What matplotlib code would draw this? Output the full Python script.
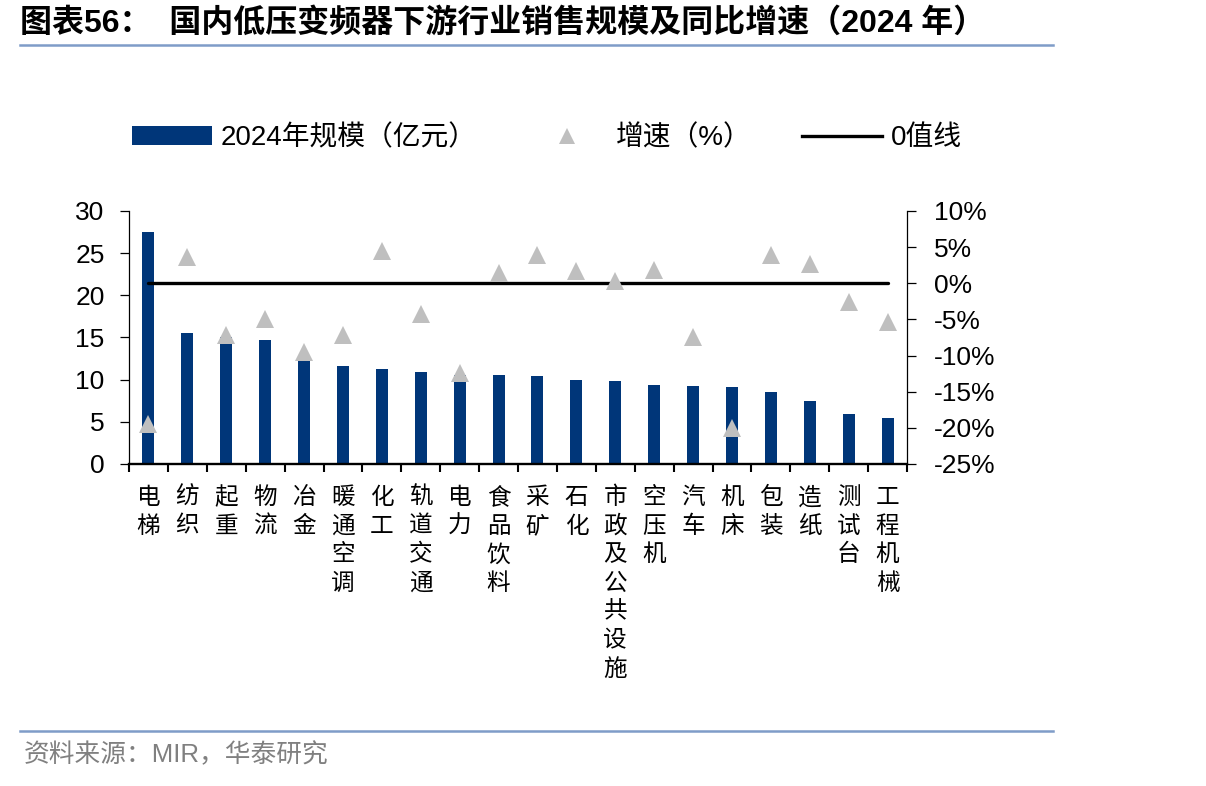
import matplotlib
matplotlib.use("Agg")
import matplotlib.pyplot as plt
import numpy as np
from matplotlib.lines import Line2D
from matplotlib.patches import Patch
from matplotlib.ticker import FuncFormatter

# ---- data ----
categories = ['电梯', '纺织', '起重', '物流', '冶金', '暖通空调', '化工', '轨道交通', '电力',
              '食品饮料', '采矿', '石化', '市政及公共设施', '空压机', '汽车', '机床', '包装',
              '造纸', '测试台', '工程机械']
scale_2024 = [27.5, 15.5, 15.0, 14.7, 12.5, 11.6, 11.3, 10.9, 10.6, 10.5, 10.4, 10.0, 9.9,
              9.4, 9.25, 9.1, 8.5, 7.5, 5.9, 5.4]
growth_pct = [-19.5, 3.7, -7.1, -5.0, -9.5, -7.1, 4.5, -4.3, -12.4, 1.4, 3.9, 1.7, 0.3,
              1.9, -7.5, -20.0, 3.9, 2.7, -2.6, -5.3]
zero_line = [0] * len(categories)
left_ticks = [0, 5, 10, 15, 20, 25, 30]
right_ticks = [-25, -20, -15, -10, -5, 0, 5, 10]

title = '图表56：  国内低压变频器下游行业销售规模及同比增速（2024 年）'
source = '资料来源：MIR，华泰研究'
legend_labels = ['2024年规模（亿元）', '增速（%）', '0值线']

# ---- style ----
LAT = ['Liberation Sans', 'Noto Sans CJK SC', 'DejaVu Sans']
CJK = ['Noto Sans CJK SC', 'DejaVu Sans']
plt.rcParams['font.family'] = LAT
BAR_C = '#003679'
TRI_C = '#BFBFBF'
RULE_C = '#7F9CC8'

W, H = 1206, 786
fig = plt.figure(figsize=(W / 100, H / 100), dpi=100)

ax_l, ax_r, ax_b, ax_t = 129, 907, 464, 211
ax = fig.add_axes([ax_l / W, 1 - ax_b / H, (ax_r - ax_l) / W, (ax_b - ax_t) / H])
ax2 = ax.twinx()

x = np.arange(len(categories))
ax.bar(x, scale_2024, width=0.31, color=BAR_C, zorder=2)
ax2.plot(x, zero_line, color='black', lw=2.4, solid_capstyle='round', zorder=3)
ax2.plot(x, growth_pct, linestyle='none', marker='^', markersize=13.5,
         color=TRI_C, markeredgewidth=0, zorder=4)

ax.set_xlim(-0.5, len(categories) - 0.5)
ax.set_ylim(0, 30)
ax2.set_ylim(-25, 10)
ax.set_yticks(left_ticks)
ax2.set_yticks(right_ticks)
ax2.yaxis.set_major_formatter(FuncFormatter(lambda v, p: f'{int(round(v))}%'))

ax.set_xticks(x)
ax.set_xticklabels(['\n'.join(c) for c in categories], family=CJK, fontsize=17,
                   linespacing=1.31, va='top')
ax.set_xticks(np.arange(-0.5, len(categories), 1), minor=True)
ax.tick_params(axis='x', which='major', length=0, pad=16)
ax.tick_params(axis='x', which='minor', length=6, width=1.5, direction='out', color='black')
ax.tick_params(axis='y', length=6.5, width=0.9, direction='out', labelsize=19, pad=11)
ax2.tick_params(axis='y', length=6.5, width=0.9, direction='out', labelsize=19, pad=13)
for lab in ax.get_yticklabels() + ax2.get_yticklabels():
    lab.set_family(LAT)

for a in (ax, ax2):
    a.spines['top'].set_visible(False)
    a.set_facecolor('none')
ax.spines['right'].set_visible(False)
ax.spines['left'].set_linewidth(0.9)
ax.spines['bottom'].set_linewidth(1.7)
ax2.spines['left'].set_visible(False)
ax2.spines['bottom'].set_visible(False)
ax2.spines['right'].set_linewidth(0.9)

# legend
handles = [Patch(facecolor=BAR_C, edgecolor='none'),
           Line2D([], [], linestyle='none', marker='^', markersize=11.5, color=TRI_C,
                  markeredgewidth=0),
           Line2D([], [], color='black', lw=2.4)]
fig.legend(handles, legend_labels, loc='center left', bbox_to_anchor=(132 / W, 1 - 138 / H),
           ncol=3, frameon=False, fontsize=20, handlelength=2.88, handletextpad=0.32,
           columnspacing=1.8, borderpad=0, borderaxespad=0, handleheight=0.7)

# title, rules, source
fig.text(20 / W, 1 - 23 / H, title, fontsize=23, fontweight='bold', family=LAT,
         ha='left', va='center', color='black')
fig.add_artist(Line2D([20 / W, 1053 / W], [1 - 45 / H, 1 - 45 / H], color=RULE_C, lw=1.8))
fig.add_artist(Line2D([20 / W, 1053 / W], [1 - 731 / H, 1 - 731 / H], color=RULE_C, lw=1.8))
fig.text(24 / W, 1 - 755 / H, source, fontsize=18.5, family=LAT, color='#808080',
         ha='left', va='center')

fig.savefig('out.png', dpi=100)
